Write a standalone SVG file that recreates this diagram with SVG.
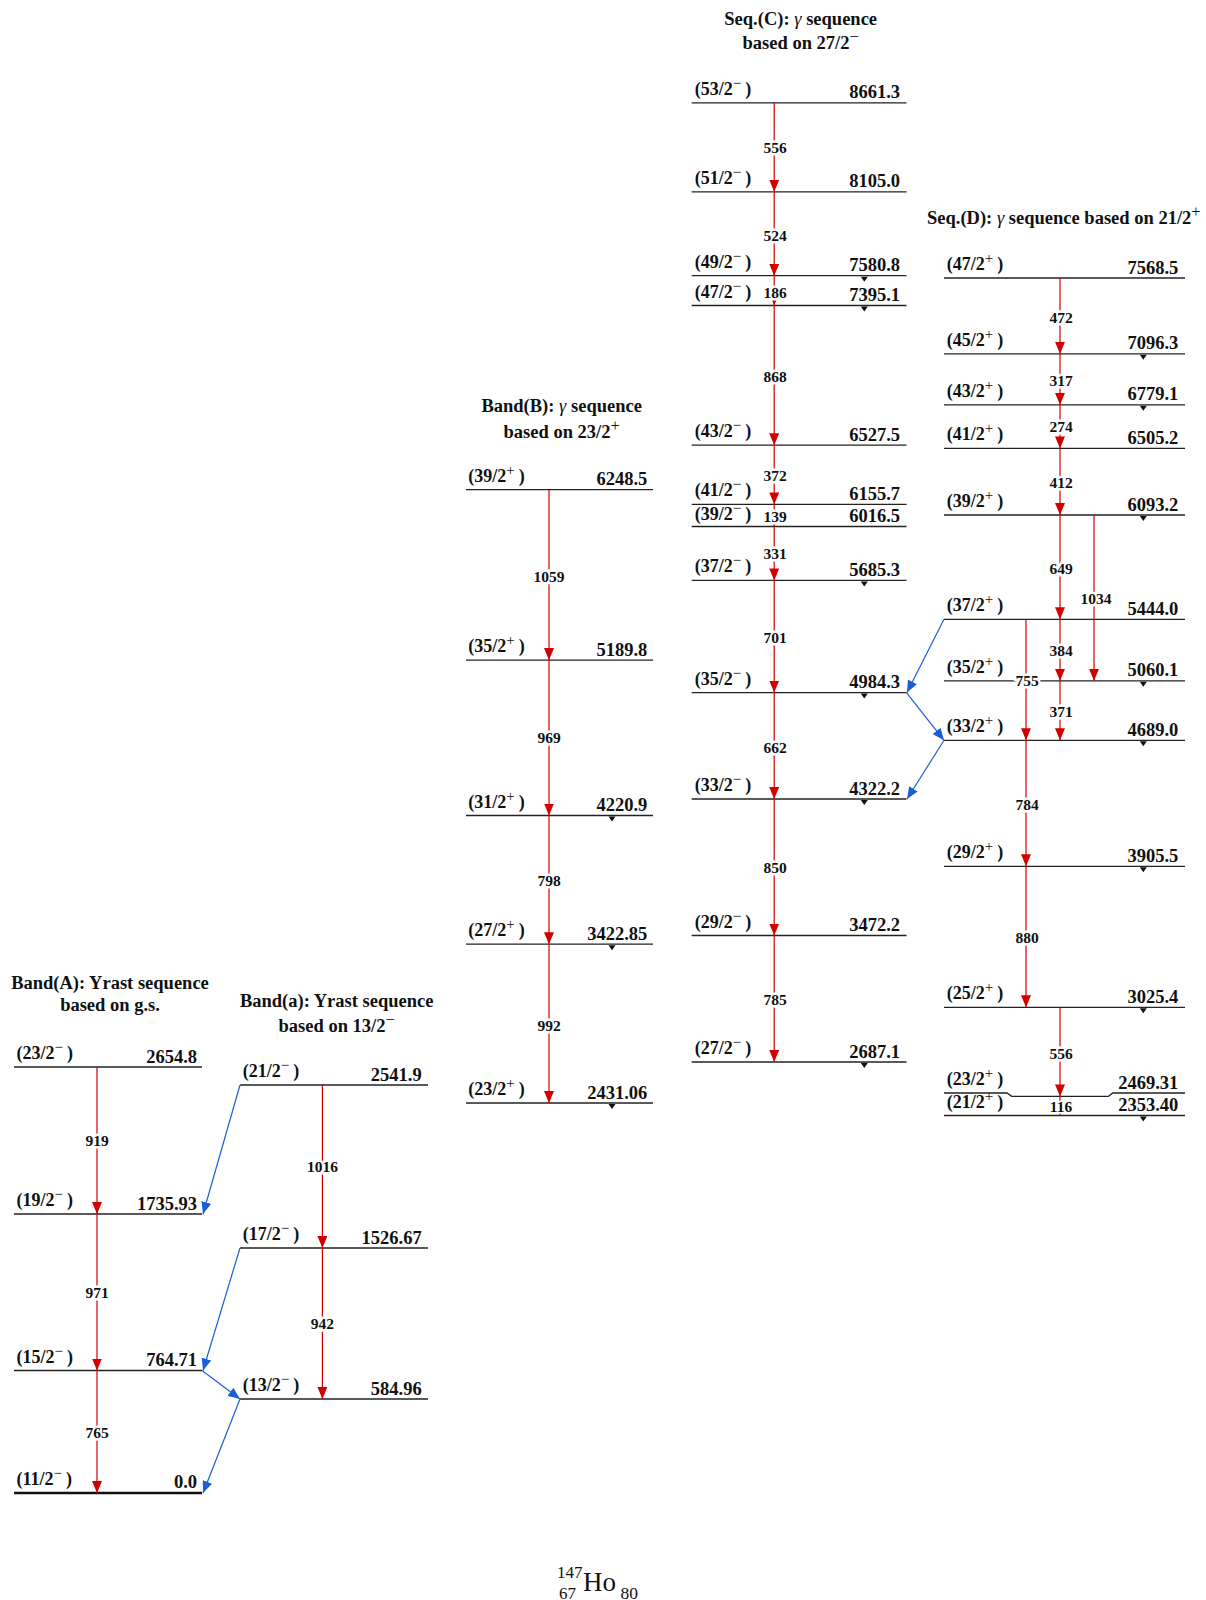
<svg xmlns="http://www.w3.org/2000/svg" width="1206" height="1600" viewBox="0 0 1206 1600">
<style>
.lv{stroke:#222;stroke-width:1.3;fill:none}
.thick{stroke:#111;stroke-width:2.6}
.sp{font-family:"Liberation Serif",serif;font-weight:bold;font-size:18px;fill:#111}
.en{font-family:"Liberation Serif",serif;font-weight:bold;font-size:18.5px;fill:#111;text-anchor:end}
.sup{font-weight:normal;font-size:15px}
.gl{font-family:"Liberation Serif",serif;font-weight:bold;font-size:15.5px;text-anchor:middle;fill:#111;stroke:#fff;stroke-width:5;paint-order:stroke}
.tr{stroke:#d40000;stroke-width:1.2;fill:none;marker-end:url(#ar)}
.tr0{stroke:#d40000;stroke-width:1.2;fill:none}
.bl{stroke:#1a5fd6;stroke-width:1.2;fill:none;marker-end:url(#ab)}
.ttl{font-family:"Liberation Serif",serif;font-weight:bold;font-size:18.5px;text-anchor:middle;fill:#111}
.ttl .sup{font-size:16.5px}
.tri{fill:#111}
.gm{font-style:italic;font-weight:normal}
</style>
<defs>
<marker id="ar" markerUnits="userSpaceOnUse" markerWidth="12" markerHeight="10" refX="12" refY="5" orient="auto"><path d="M0,0 L12,5 L0,10 z" fill="#d40000"/></marker>
<marker id="ab" markerUnits="userSpaceOnUse" markerWidth="12" markerHeight="10" refX="12" refY="5" orient="auto"><path d="M0,0 L12,5 L0,10 z" fill="#1a5fd6"/></marker>
</defs>

<!-- Titles -->
<g id="titles">
<text class="ttl" x="110" y="989">Band(A): Yrast sequence</text>
<text class="ttl" x="110" y="1011">based on g.s.</text>
<text class="ttl" x="336.7" y="1007">Band(a): Yrast sequence</text>
<text class="ttl" x="336.7" y="1032">based on 13/2<tspan class="sup" dy="-7">−</tspan></text>
<text class="ttl" x="561.7" y="412">Band(B): <tspan class="gm">γ</tspan> sequence</text>
<text class="ttl" x="561.7" y="438">based on 23/2<tspan class="sup" dy="-7">+</tspan></text>
<text class="ttl" x="800.7" y="24.6">Seq.(C): <tspan class="gm">γ</tspan> sequence</text>
<text class="ttl" x="800.7" y="49">based on 27/2<tspan class="sup" dy="-7">−</tspan></text>
<text class="ttl" x="927" y="224.3" style="text-anchor:start">Seq.(D): <tspan class="gm">γ</tspan> sequence based on 21/2<tspan class="sup" dy="-7">+</tspan></text>
</g>

<!-- Band A -->
<g id="A_2654.8"><line class="lv" x1="14" y1="1067" x2="202" y2="1067"/><text class="sp" x="16.5" y="1059">(23/2<tspan class="sup" dy="-7">−</tspan><tspan dy="7" dx="4">)</tspan></text><text class="en" x="197" y="1062.5">2654.8</text></g>
<g id="A_1735.93"><line class="lv" x1="14" y1="1214" x2="202" y2="1214"/><text class="sp" x="16.5" y="1206">(19/2<tspan class="sup" dy="-7">−</tspan><tspan dy="7" dx="4">)</tspan></text><text class="en" x="197" y="1209.5">1735.93</text></g>
<g id="A_764.71"><line class="lv" x1="14" y1="1370.5" x2="202" y2="1370.5"/><text class="sp" x="16.5" y="1362.5">(15/2<tspan class="sup" dy="-7">−</tspan><tspan dy="7" dx="4">)</tspan></text><text class="en" x="197" y="1366">764.71</text></g>
<g id="A_0.0"><line class="lv thick" x1="14" y1="1493" x2="202" y2="1493"/><text class="sp" x="16.5" y="1485">(11/2<tspan class="sup" dy="-7">−</tspan><tspan dy="7" dx="4">)</tspan></text><text class="en" x="197" y="1488">0.0</text></g>

<!-- Band a -->
<g id="a_2541.9"><line class="lv" x1="240" y1="1085" x2="428" y2="1085"/><text class="sp" x="242.7" y="1077">(21/2<tspan class="sup" dy="-7">−</tspan><tspan dy="7" dx="4">)</tspan></text><text class="en" x="421.7" y="1080.5">2541.9</text></g>
<g id="a_1526.67"><line class="lv" x1="240" y1="1248" x2="428" y2="1248"/><text class="sp" x="242.7" y="1240">(17/2<tspan class="sup" dy="-7">−</tspan><tspan dy="7" dx="4">)</tspan></text><text class="en" x="421.7" y="1243.5">1526.67</text></g>
<g id="a_584.96"><line class="lv" x1="240" y1="1399" x2="428" y2="1399"/><text class="sp" x="242.7" y="1391">(13/2<tspan class="sup" dy="-7">−</tspan><tspan dy="7" dx="4">)</tspan></text><text class="en" x="421.7" y="1394.5">584.96</text></g>

<!-- Band B -->
<g id="B_6248.5"><line class="lv" x1="466" y1="489.7" x2="653" y2="489.7"/><text class="sp" x="468.3" y="481.7">(39/2<tspan class="sup" dy="-7">+</tspan><tspan dy="7" dx="4">)</tspan></text><text class="en" x="647.3" y="485.2">6248.5</text></g>
<g id="B_5189.8"><line class="lv" x1="466" y1="660.1" x2="653" y2="660.1"/><text class="sp" x="468.3" y="652.1">(35/2<tspan class="sup" dy="-7">+</tspan><tspan dy="7" dx="4">)</tspan></text><text class="en" x="647.3" y="655.6">5189.8</text></g>
<g id="B_4220.9"><line class="lv" x1="466" y1="815.5" x2="653" y2="815.5"/><text class="sp" x="468.3" y="807.5">(31/2<tspan class="sup" dy="-7">+</tspan><tspan dy="7" dx="4">)</tspan></text><text class="en" x="647.3" y="811">4220.9</text><polygon class="tri" points="608.5,816.5 615.5,816.5 612,821.5"/></g>
<g id="B_3422.85"><line class="lv" x1="466" y1="944.2" x2="653" y2="944.2"/><text class="sp" x="468.3" y="936.2">(27/2<tspan class="sup" dy="-7">+</tspan><tspan dy="7" dx="4">)</tspan></text><text class="en" x="647.3" y="939.7">3422.85</text><polygon class="tri" points="608.5,945.2 615.5,945.2 612,950.2"/></g>
<g id="B_2431.06"><line class="lv" x1="466" y1="1103" x2="653" y2="1103"/><text class="sp" x="468.3" y="1095">(23/2<tspan class="sup" dy="-7">+</tspan><tspan dy="7" dx="4">)</tspan></text><text class="en" x="647.3" y="1098.5">2431.06</text><polygon class="tri" points="608.5,1104 615.5,1104 612,1109"/></g>

<!-- Seq C -->
<g id="C_8661.3"><line class="lv" x1="691.7" y1="102.9" x2="906.5" y2="102.9"/><text class="sp" x="694.7" y="94.9">(53/2<tspan class="sup" dy="-7">−</tspan><tspan dy="7" dx="4">)</tspan></text><text class="en" x="900" y="98.4">8661.3</text></g>
<g id="C_8105.0"><line class="lv" x1="691.7" y1="191.8" x2="906.5" y2="191.8"/><text class="sp" x="694.7" y="183.8">(51/2<tspan class="sup" dy="-7">−</tspan><tspan dy="7" dx="4">)</tspan></text><text class="en" x="900" y="187.3">8105.0</text></g>
<g id="C_7580.8"><line class="lv" x1="691.7" y1="275.7" x2="906.5" y2="275.7"/><text class="sp" x="694.7" y="267.7">(49/2<tspan class="sup" dy="-7">−</tspan><tspan dy="7" dx="4">)</tspan></text><text class="en" x="900" y="271.2">7580.8</text><polygon class="tri" points="860.8,276.7 867.8,276.7 864.3,281.7"/></g>
<g id="C_7395.1"><line class="lv" x1="691.7" y1="305.5" x2="906.5" y2="305.5"/><text class="sp" x="694.7" y="297.5">(47/2<tspan class="sup" dy="-7">−</tspan><tspan dy="7" dx="4">)</tspan></text><text class="en" x="900" y="301">7395.1</text><polygon class="tri" points="860.8,306.5 867.8,306.5 864.3,311.5"/></g>
<g id="C_6527.5"><line class="lv" x1="691.7" y1="445.2" x2="906.5" y2="445.2"/><text class="sp" x="694.7" y="437.2">(43/2<tspan class="sup" dy="-7">−</tspan><tspan dy="7" dx="4">)</tspan></text><text class="en" x="900" y="440.7">6527.5</text></g>
<g id="C_6155.7"><line class="lv" x1="691.7" y1="504.4" x2="906.5" y2="504.4"/><text class="sp" x="694.7" y="496.4">(41/2<tspan class="sup" dy="-7">−</tspan><tspan dy="7" dx="4">)</tspan></text><text class="en" x="900" y="499.9">6155.7</text></g>
<g id="C_6016.5"><line class="lv" x1="691.7" y1="526.5" x2="906.5" y2="526.5"/><text class="sp" x="694.7" y="519.5">(39/2<tspan class="sup" dy="-7">−</tspan><tspan dy="7" dx="4">)</tspan></text><text class="en" x="900" y="522">6016.5</text></g>
<g id="C_5685.3"><line class="lv" x1="691.7" y1="580.4" x2="906.5" y2="580.4"/><text class="sp" x="694.7" y="572.4">(37/2<tspan class="sup" dy="-7">−</tspan><tspan dy="7" dx="4">)</tspan></text><text class="en" x="900" y="575.9">5685.3</text><polygon class="tri" points="860.8,581.4 867.8,581.4 864.3,586.4"/></g>
<g id="C_4984.3"><line class="lv" x1="691.7" y1="692.6" x2="906.5" y2="692.6"/><text class="sp" x="694.7" y="684.6">(35/2<tspan class="sup" dy="-7">−</tspan><tspan dy="7" dx="4">)</tspan></text><text class="en" x="900" y="688.1">4984.3</text><polygon class="tri" points="860.8,693.6 867.8,693.6 864.3,698.6"/></g>
<g id="C_4322.2"><line class="lv" x1="691.7" y1="799" x2="906.5" y2="799"/><text class="sp" x="694.7" y="791">(33/2<tspan class="sup" dy="-7">−</tspan><tspan dy="7" dx="4">)</tspan></text><text class="en" x="900" y="794.5">4322.2</text><polygon class="tri" points="860.8,800 867.8,800 864.3,805"/></g>
<g id="C_3472.2"><line class="lv" x1="691.7" y1="935.5" x2="906.5" y2="935.5"/><text class="sp" x="694.7" y="927.5">(29/2<tspan class="sup" dy="-7">−</tspan><tspan dy="7" dx="4">)</tspan></text><text class="en" x="900" y="931">3472.2</text></g>
<g id="C_2687.1"><line class="lv" x1="691.7" y1="1062" x2="906.5" y2="1062"/><text class="sp" x="694.7" y="1054">(27/2<tspan class="sup" dy="-7">−</tspan><tspan dy="7" dx="4">)</tspan></text><text class="en" x="900" y="1057.5">2687.1</text><polygon class="tri" points="860.8,1063 867.8,1063 864.3,1068"/></g>

<!-- Seq D -->
<g id="D_7568.5"><line class="lv" x1="944" y1="278" x2="1185" y2="278"/><text class="sp" x="946.7" y="270">(47/2<tspan class="sup" dy="-7">+</tspan><tspan dy="7" dx="4">)</tspan></text><text class="en" x="1178.3" y="273.5">7568.5</text></g>
<g id="D_7096.3"><line class="lv" x1="944" y1="353.8" x2="1185" y2="353.8"/><text class="sp" x="946.7" y="345.8">(45/2<tspan class="sup" dy="-7">+</tspan><tspan dy="7" dx="4">)</tspan></text><text class="en" x="1178.3" y="349.3">7096.3</text><polygon class="tri" points="1139.8,354.8 1146.8,354.8 1143.3,359.8"/></g>
<g id="D_6779.1"><line class="lv" x1="944" y1="404.8" x2="1185" y2="404.8"/><text class="sp" x="946.7" y="396.8">(43/2<tspan class="sup" dy="-7">+</tspan><tspan dy="7" dx="4">)</tspan></text><text class="en" x="1178.3" y="400.3">6779.1</text><polygon class="tri" points="1139.8,405.8 1146.8,405.8 1143.3,410.8"/></g>
<g id="D_6505.2"><line class="lv" x1="944" y1="448.4" x2="1185" y2="448.4"/><text class="sp" x="946.7" y="440.4">(41/2<tspan class="sup" dy="-7">+</tspan><tspan dy="7" dx="4">)</tspan></text><text class="en" x="1178.3" y="443.9">6505.2</text></g>
<g id="D_6093.2"><line class="lv" x1="944" y1="515" x2="1185" y2="515"/><text class="sp" x="946.7" y="507">(39/2<tspan class="sup" dy="-7">+</tspan><tspan dy="7" dx="4">)</tspan></text><text class="en" x="1178.3" y="510.5">6093.2</text><polygon class="tri" points="1139.8,516 1146.8,516 1143.3,521"/></g>
<g id="D_5444.0"><line class="lv" x1="944" y1="619.3" x2="1185" y2="619.3"/><text class="sp" x="946.7" y="611.3">(37/2<tspan class="sup" dy="-7">+</tspan><tspan dy="7" dx="4">)</tspan></text><text class="en" x="1178.3" y="614.8">5444.0</text></g>
<g id="D_5060.1"><line class="lv" x1="944" y1="680.8" x2="1185" y2="680.8"/><text class="sp" x="946.7" y="672.8">(35/2<tspan class="sup" dy="-7">+</tspan><tspan dy="7" dx="4">)</tspan></text><text class="en" x="1178.3" y="676.3">5060.1</text><polygon class="tri" points="1139.8,681.8 1146.8,681.8 1143.3,686.8"/></g>
<g id="D_4689.0"><line class="lv" x1="944" y1="740.3" x2="1185" y2="740.3"/><text class="sp" x="946.7" y="732.3">(33/2<tspan class="sup" dy="-7">+</tspan><tspan dy="7" dx="4">)</tspan></text><text class="en" x="1178.3" y="735.8">4689.0</text><polygon class="tri" points="1139.8,741.3 1146.8,741.3 1143.3,746.3"/></g>
<g id="D_3905.5"><line class="lv" x1="944" y1="866.3" x2="1185" y2="866.3"/><text class="sp" x="946.7" y="858.3">(29/2<tspan class="sup" dy="-7">+</tspan><tspan dy="7" dx="4">)</tspan></text><text class="en" x="1178.3" y="861.8">3905.5</text><polygon class="tri" points="1139.8,867.3 1146.8,867.3 1143.3,872.3"/></g>
<g id="D_3025.4"><line class="lv" x1="944" y1="1007.3" x2="1185" y2="1007.3"/><text class="sp" x="946.7" y="999.3">(25/2<tspan class="sup" dy="-7">+</tspan><tspan dy="7" dx="4">)</tspan></text><text class="en" x="1178.3" y="1002.8">3025.4</text><polygon class="tri" points="1139.8,1008.3 1146.8,1008.3 1143.3,1013.3"/></g>
<g id="D_2469.31"><polyline class="lv" points="944,1093 1007,1093 1011.7,1096.4 1108.3,1096.4 1112.7,1093 1185,1093"/><text class="sp" x="946.7" y="1085">(23/2<tspan class="sup" dy="-7">+</tspan><tspan dy="7" dx="4">)</tspan></text><text class="en" x="1178.3" y="1088.5">2469.31</text></g>
<g id="D_2353.40"><line class="lv" x1="944" y1="1115.5" x2="1185" y2="1115.5"/><text class="sp" x="946.7" y="1108">(21/2<tspan class="sup" dy="-7">+</tspan><tspan dy="7" dx="4">)</tspan></text><text class="en" x="1178.3" y="1111">2353.40</text><polygon class="tri" points="1139.8,1116.5 1146.8,1116.5 1143.3,1121.5"/></g>

<!-- Connectors -->
<g id="connectors">
<line class="tr" x1="97" y1="1067" x2="97" y2="1214"/>
<line class="tr" x1="97" y1="1214" x2="97" y2="1370.5"/>
<line class="tr" x1="97" y1="1370.5" x2="97" y2="1493"/>
<line class="tr" x1="322.4" y1="1085" x2="322.4" y2="1248"/>
<line class="tr" x1="322.4" y1="1248" x2="322.4" y2="1399"/>
<line class="bl" x1="240" y1="1085" x2="203" y2="1214"/>
<line class="bl" x1="240" y1="1248" x2="203" y2="1370.5"/>
<line class="bl" x1="202" y1="1370.5" x2="240" y2="1399"/>
<line class="bl" x1="240" y1="1399" x2="203" y2="1493"/>
<line class="tr" x1="549" y1="489.7" x2="549" y2="660.1"/>
<line class="tr" x1="549" y1="660.1" x2="549" y2="815.5"/>
<line class="tr" x1="549" y1="815.5" x2="549" y2="944.2"/>
<line class="tr" x1="549" y1="944.2" x2="549" y2="1103"/>
<line class="tr" x1="774.2" y1="102.9" x2="774.2" y2="191.8"/>
<line class="tr" x1="774.2" y1="191.8" x2="774.2" y2="275.7"/>
<line class="tr" x1="774.2" y1="275.7" x2="774.2" y2="305.5"/>
<line class="tr" x1="774.2" y1="305.5" x2="774.2" y2="445.2"/>
<line class="tr" x1="774.2" y1="445.2" x2="774.2" y2="504.4"/>
<line class="tr" x1="774.2" y1="504.4" x2="774.2" y2="526.5"/>
<line class="tr" x1="774.2" y1="526.5" x2="774.2" y2="580.4"/>
<line class="tr" x1="774.2" y1="580.4" x2="774.2" y2="692.6"/>
<line class="tr" x1="774.2" y1="692.6" x2="774.2" y2="799"/>
<line class="tr" x1="774.2" y1="799" x2="774.2" y2="935.5"/>
<line class="tr" x1="774.2" y1="935.5" x2="774.2" y2="1062"/>
<line class="tr" x1="1060" y1="278" x2="1060" y2="353.8"/>
<line class="tr" x1="1060" y1="353.8" x2="1060" y2="404.8"/>
<line class="tr" x1="1060" y1="404.8" x2="1060" y2="448.4"/>
<line class="tr" x1="1060" y1="448.4" x2="1060" y2="515"/>
<line class="tr" x1="1060" y1="515" x2="1060" y2="619.3"/>
<line class="tr" x1="1060" y1="619.3" x2="1060" y2="680.8"/>
<line class="tr" x1="1060" y1="680.8" x2="1060" y2="740.3"/>
<line class="tr" x1="1094" y1="515" x2="1094" y2="680.8"/>
<line class="tr" x1="1026" y1="619.3" x2="1026" y2="740.3"/>
<line class="tr" x1="1026" y1="740.3" x2="1026" y2="866.3"/>
<line class="tr" x1="1026" y1="866.3" x2="1026" y2="1007.3"/>
<line class="tr" x1="1060" y1="1007.3" x2="1060" y2="1096.4"/>
<line class="tr0" x1="1060" y1="1096.4" x2="1060" y2="1115.5"/>
<line class="bl" x1="944" y1="619.3" x2="907" y2="692.6"/>
<line class="bl" x1="906.5" y1="692.6" x2="944" y2="740.3"/>
<line class="bl" x1="944" y1="740.3" x2="907" y2="799"/>

<text class="gl" x="97" y="1145.5">919</text>
<text class="gl" x="97" y="1297.5">971</text>
<text class="gl" x="97" y="1438">765</text>
<text class="gl" x="322.4" y="1172">1016</text>
<text class="gl" x="322.4" y="1329">942</text>
<text class="gl" x="549" y="581.5">1059</text>
<text class="gl" x="549" y="743.2">969</text>
<text class="gl" x="549" y="885.5">798</text>
<text class="gl" x="549" y="1030.5">992</text>
<text class="gl" x="775" y="152.5">556</text>
<text class="gl" x="775" y="240.5">524</text>
<text class="gl" x="775" y="297.5">186</text>
<text class="gl" x="775" y="381.5">868</text>
<text class="gl" x="775" y="481.2">372</text>
<text class="gl" x="775" y="521.5">139</text>
<text class="gl" x="775" y="559">331</text>
<text class="gl" x="775" y="642.5">701</text>
<text class="gl" x="775" y="752.8">662</text>
<text class="gl" x="775" y="873.3">850</text>
<text class="gl" x="775" y="1004.5">785</text>
<text class="gl" x="1061" y="322.8">472</text>
<text class="gl" x="1061" y="385.5">317</text>
<text class="gl" x="1061" y="432.2">274</text>
<text class="gl" x="1061" y="488.2">412</text>
<text class="gl" x="1061" y="573.8">649</text>
<text class="gl" x="1096" y="603.8">1034</text>
<text class="gl" x="1061" y="656.2">384</text>
<text class="gl" x="1027" y="685.5">755</text>
<text class="gl" x="1061" y="716.5">371</text>
<text class="gl" x="1027" y="809.5">784</text>
<text class="gl" x="1027" y="942.5">880</text>
<text class="gl" x="1061" y="1058.5">556</text>
<text class="gl" x="1061" y="1112" style="stroke-width:3">116</text>
</g>

<!-- Nuclide label -->
<g id="nuclide" font-family="Liberation Serif, serif" fill="#111">
<text x="557" y="1578" font-size="17">147</text>
<text x="559" y="1599" font-size="17">67</text>
<text x="583" y="1591" font-size="27">Ho</text>
<text x="620.5" y="1599" font-size="17.5">80</text>
</g>
</svg>
